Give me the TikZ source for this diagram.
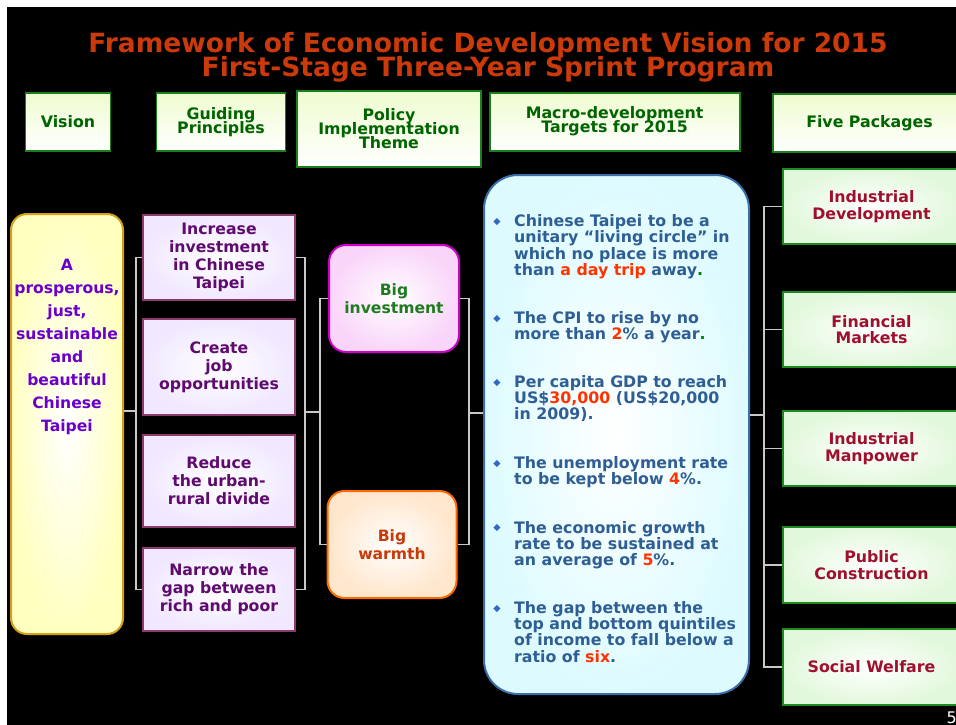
\documentclass[tikz,border=0pt]{standalone}
\usepackage{fontspec}
\setmainfont{DejaVu Sans}
\usetikzlibrary{calc}
\definecolor{titlec}{HTML}{CC3A0A}
\definecolor{hdrtx}{HTML}{006400}
\definecolor{hdrb}{HTML}{1A7F1A}
\definecolor{hdrtop}{HTML}{EEFCCF}
\definecolor{visb}{HTML}{D4A017}
\definecolor{visfill}{HTML}{FFFFC0}
\definecolor{vistx}{HTML}{6B00CC}
\definecolor{pb}{HTML}{8E3A6E}
\definecolor{pfill}{HTML}{F0E8FF}
\definecolor{ptx}{HTML}{5E0A6E}
\definecolor{bib}{HTML}{D000C8}
\definecolor{bifill}{HTML}{F9D5F9}
\definecolor{bitx}{HTML}{1E7B1E}
\definecolor{bwb}{HTML}{FF6A00}
\definecolor{bwfill}{HTML}{FFE6CC}
\definecolor{bwtx}{HTML}{C83A0A}
\definecolor{tgb}{HTML}{3A6EA8}
\definecolor{tgfill}{HTML}{DDFBFF}
\definecolor{tgtx}{HTML}{2E5E94}
\definecolor{hl}{HTML}{FF3300}
\definecolor{dg}{HTML}{008000}
\definecolor{blt}{HTML}{3467C4}
\definecolor{pkb}{HTML}{1C8C1C}
\definecolor{pkfill}{HTML}{E2F8DC}
\definecolor{pktx}{HTML}{A0102E}
\definecolor{linec}{HTML}{C8C8C8}
\newcommand\titlefont{\fontsize{26.5}{24.3}\selectfont\bfseries\lineskiplimit=-100pt}
\newcommand\hdrfont{\fontsize{15.8}{14}\selectfont\bfseries\lineskiplimit=-100pt}
\newcommand\visfont{\fontsize{15.6}{23}\selectfont\bfseries\lineskiplimit=-100pt}
\newcommand\pfont{\fontsize{15.7}{18}\selectfont\bfseries\lineskiplimit=-100pt}
\newcommand\bigfont{\fontsize{15.6}{18.5}\selectfont\bfseries\lineskiplimit=-100pt}
\newcommand\itemfont{\fontsize{15.8}{16.1}\selectfont\bfseries\lineskiplimit=-100pt}
\newcommand\pkfont{\fontsize{15.8}{16.5}\selectfont\bfseries\lineskiplimit=-100pt}
\newcommand\blt{\llap{\raisebox{2.2pt}{\fontsize{9.5}{9.5}\selectfont\color{blt}◆}\hspace{13.5pt}}}
\begin{document}
\begin{tikzpicture}[x=1pt,y=-1pt,
  hdr/.style={draw=hdrb, line width=1.8pt, top color=hdrtop, bottom color=white, text=hdrtx, font=\hdrfont, align=center, inner sep=0pt},
  pbox/.style={draw=pb, line width=2pt, inner color=white, outer color=pfill, text=ptx, font=\pfont, align=center, minimum width=152, inner sep=0pt},
  pkbox/.style={draw=pkb, line width=2pt, inner color=white, outer color=pkfill, text=pktx, font=\pkfont, align=center, minimum width=177, minimum height=75, inner sep=0pt},
  itembox/.style={anchor=north west, inner sep=0pt, text=tgtx, font=\itemfont, align=left},
  conn/.style={draw=linec, line width=1.2pt}]
\useasboundingbox (0,0) rectangle (956,725);
\clip (0,0) rectangle (956,725);
\fill[white] (0,0) rectangle (956,725);
\fill[black] (7,7) rectangle (956,725);

% title
\node[anchor=north, inner sep=0pt, font=\titlefont, text=titlec, align=center] (title) at (488,31.7)
  {\rule{0pt}{20pt}Framework of Economic Development Vision for 2015\\First-Stage Three-Year Sprint Program};

% headers
\node[hdr, minimum width=85, minimum height=58] (hv) at (68,121.7) {Vision};
\node[hdr, minimum width=129, minimum height=58] (hg) at (221,121.7) {Guiding\\Principles};
\node[hdr, minimum width=184, minimum height=76] (hp) at (389,128.8) {Policy\\Implementation\\Theme};
\node[hdr, minimum width=250, minimum height=58] (hm) at (614.6,121.7) {Macro-development\\Targets for 2015};
\node[hdr, minimum width=193, minimum height=58] (hf) at (869.5,123.2) {Five Packages};

% vision
\node[draw=visb, line width=2pt, rounded corners=16pt, inner color=white, outer color=visfill,
      minimum width=112, minimum height=420, inner sep=0pt] (vis) at (67,424) {};
\node[anchor=north, inner sep=0pt, text=vistx, font=\visfont, align=center] (vist) at (67,257)
  {\rule{0pt}{13pt}A\\prosperous,\\just,\\sustainable\\and\\beautiful\\Chinese\\Taipei};

% principles
\node[pbox, minimum height=85] (p1) at (219,257.5) {Increase\\investment\\in Chinese\\Taipei};
\node[pbox, minimum height=96] (p2) at (219,367) {Create\\job\\opportunities};
\node[pbox, minimum height=92] (p3) at (219,481) {Reduce\\the urban-\\rural divide};
\node[pbox, minimum height=83] (p4) at (219,589.5) {Narrow the\\gap between\\rich and poor};

% themes
\node[draw=bib, line width=2pt, rounded corners=17pt, inner color=white, outer color=bifill,
      minimum width=130, minimum height=107, inner sep=0pt, text=bitx, font=\bigfont, align=center] (bi) at (394,298.5) {Big\\investment};
\node[draw=bwb, line width=2pt, rounded corners=17pt, inner color=white, outer color=bwfill,
      minimum width=129, minimum height=107, inner sep=0pt, text=bwtx, font=\bigfont, align=center] (bw) at (392,544.5) {Big\\warmth};

% targets
\node[draw=tgb, line width=2pt, rounded corners=34pt, inner color=white, outer color=tgfill,
      minimum width=265, minimum height=519, inner sep=0pt] (tg) at (616.5,434.5) {};
\node[itembox] (t1) at (514,213.6) {\rule{0pt}{13pt}\blt Chinese Taipei to be a\\unitary “living circle” in\\which no place is more\\than \textcolor{hl}{a day trip} away\textcolor{dg}{.}};
\node[itembox] (t2) at (514,310.3) {\rule{0pt}{13pt}\blt The CPI to rise by no\\more than \textcolor{hl}{2}\% a year\textcolor{dg}{.}};
\node[itembox] (t3) at (514,374) {\rule{0pt}{13pt}\blt Per capita GDP to reach\\US\$\textcolor{hl}{30,000} (US\$20,000\\in 2009).};
\node[itembox] (t4) at (514,455.4) {\rule{0pt}{13pt}\blt The unemployment rate\\to be kept below \textcolor{hl}{4}\%.};
\node[itembox] (t5) at (514,519.8) {\rule{0pt}{13pt}\blt The economic growth\\rate to be sustained at\\an average of \textcolor{hl}{5}\%.};
\node[itembox] (t6) at (514,600.5) {\rule{0pt}{13pt}\blt The gap between the\\top and bottom quintiles\\of income to fall below a\\ratio of \textcolor{hl}{six}.};

% packages
\node[pkbox] (pk1) at (871.5,206.5) {Industrial\\Development};
\node[pkbox] (pk2) at (871.5,329.5) {Financial\\Markets};
\node[pkbox] (pk3) at (871.5,448.5) {Industrial\\Manpower};
\node[pkbox, minimum height=76] (pk4) at (871.5,565) {Public\\Construction};
\node[pkbox, minimum height=76] (pk5) at (871.5,667) {Social Welfare};

% connectors
\coordinate (vA) at (136,411);
\draw[conn] (vis.east |- vA) -- (vA);
\draw[conn] (p1.west) -| (vA) |- (p4.west);
\coordinate (pB) at (305,412);
\coordinate (pC) at (320,412);
\draw[conn] (p1.east) -| (pB) |- (p4.east);
\draw[conn] (pB) -- (pC);
\draw[conn] (bi.west) -| (pC) |- (bw.west);
\coordinate (bD) at (469,413);
\draw[conn] (bi.east) -| (bD) |- (bw.east);
\draw[conn] (bD) -- (tg.west |- bD);
\coordinate (tE) at (764,415);
\draw[conn] (tg.east |- tE) -- (tE);
\draw[conn] (pk1.west) -| (tE) |- (pk5.west);
\draw[conn] (pk2.west) -- (pk2.west -| tE);
\draw[conn] (pk3.west) -- (pk3.west -| tE);
\draw[conn] (pk4.west) -- (pk4.west -| tE);

% page number
\node[anchor=base west, inner sep=0pt, text=white, font=\fontsize{16}{16}\selectfont] (pg) at (946.5,723) {5};
\end{tikzpicture}
\end{document}
